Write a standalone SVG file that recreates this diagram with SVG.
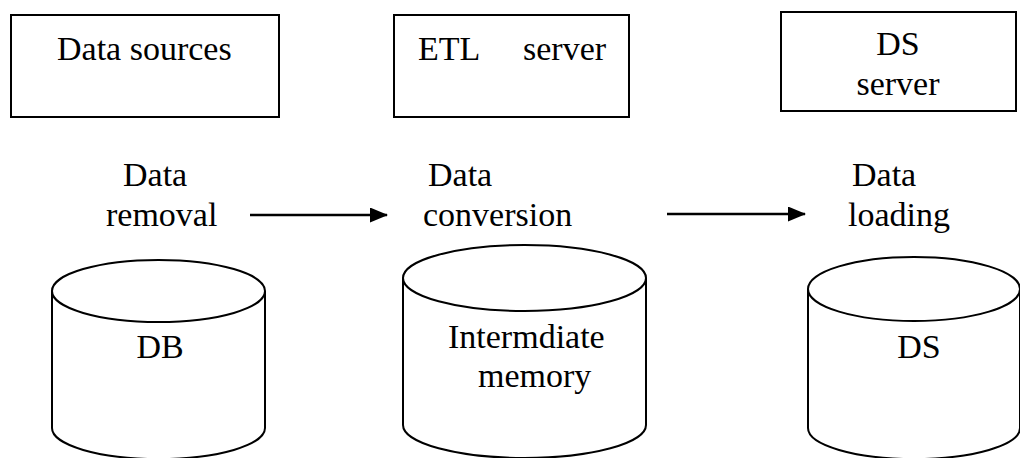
<svg xmlns="http://www.w3.org/2000/svg" width="1020" height="458" viewBox="0 0 1020 458">
<style>
.box{fill:#fff;stroke:#000;stroke-width:2}
.cyl{fill:#fff;stroke:#000;stroke-width:2}
.t{font-family:'Liberation Serif','Times New Roman',serif;font-size:34px;fill:#000}
.m{text-anchor:middle}
.conn{stroke:#000;stroke-width:2.5;fill:none}
</style>
<defs>
<marker id="ah" viewBox="0 0 18 15" refX="17" refY="7.5" markerWidth="18" markerHeight="15" markerUnits="userSpaceOnUse" orient="auto">
<path d="M0,0 L18,7.5 L0,15 z" fill="#000"/>
</marker>
</defs>
<rect width="1020" height="458" fill="#fff"/>
<g id="data-sources">
<rect class="box" x="11" y="15" width="268" height="102"/>
<text class="t" x="57" y="60">Data sources</text>
</g>
<g id="etl-server">
<rect class="box" x="394" y="15" width="235" height="102"/>
<text class="t" x="418" y="60">ETL</text>
<text class="t" x="523" y="60">server</text>
</g>
<g id="ds-server">
<rect class="box" x="781" y="12" width="235" height="99"/>
<text class="t m" x="898" y="55">DS</text>
<text class="t m" x="898" y="95">server</text>
</g>
<g id="data-removal">
<text class="t" x="123" y="186">Data</text>
<text class="t" x="106" y="226">removal</text>
</g>
<g id="data-conversion">
<text class="t" x="428" y="186">Data</text>
<text class="t" x="423" y="226">conversion</text>
</g>
<g id="data-loading">
<text class="t" x="852" y="186">Data</text>
<text class="t" x="848" y="226">loading</text>
</g>
<g id="db">
<path class="cyl" d="M52,291 L52,428 A106.5,31 0 0 0 265,428 L265,291"/>
<ellipse class="cyl" cx="158.5" cy="291" rx="106.5" ry="31"/>
<text class="t m" x="160" y="358">DB</text>
</g>
<g id="intermediate-memory">
<path class="cyl" d="M403,278 L403,425 A121.5,33 0 0 0 646,425 L646,278"/>
<ellipse class="cyl" cx="524.5" cy="278" rx="121.5" ry="33"/>
<text class="t" x="448" y="348">Intermdiate</text>
<text class="t" x="478" y="387">memory</text>
</g>
<g id="ds">
<path class="cyl" d="M808,289 L808,428 A106,31 0 0 0 1020,428 L1020,289"/>
<ellipse class="cyl" cx="914" cy="289" rx="106" ry="32"/>
<text class="t m" x="919" y="358">DS</text>
</g>
<g id="connectors">
<line class="conn" x1="250" y1="215" x2="387" y2="215" marker-end="url(#ah)"/>
<line class="conn" x1="667" y1="214" x2="805" y2="214" marker-end="url(#ah)"/>
</g>
</svg>
